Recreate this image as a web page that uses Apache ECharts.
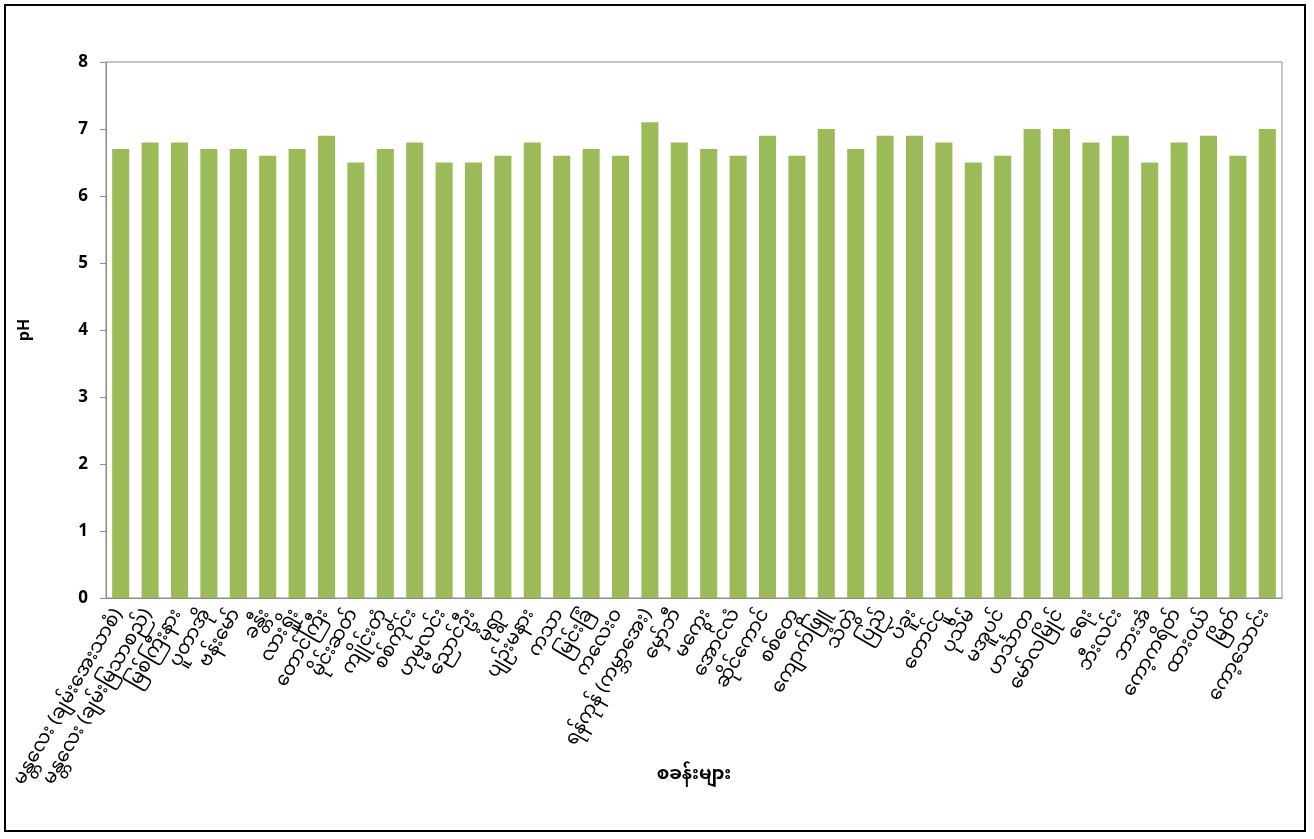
<!DOCTYPE html>
<html><head><meta charset="utf-8">
<script src="https://cdn.jsdelivr.net/npm/echarts@6/dist/echarts.min.js"></script>
<style>
html,body{margin:0;padding:0;background:#fff;}
#frame{position:absolute;left:4px;top:4px;width:1302px;height:828px;border:2px solid #000;box-sizing:border-box;}
#c{position:absolute;left:0;top:0;width:1314px;height:839px;}
</style></head>
<body>
<div id="frame"></div>
<div id="c"></div>
<script>
const categories = [
"မန္တလေး (ချမ်းအေးသာစံ)","မန္တလေး (ချမ်းမြသာစည်)","မြစ်ကြီးနား","ပူတာအို","ဗန်းမော်",
"ခန္တီး","လားရှိုး","တောင်ကြီး","မိုင်းဆတ်","ကျိုင်းတုံ",
"စစ်ကိုင်း","ဟုမ္မလင်း","ညောင်ဦး","မုံရွာ","ပျဉ်းမနား",
"ကသာ","မြင်းခြံ","ကလေးဝ","ရန်ကုန် (ကမ္ဘာအေး)","မှော်ဘီ",
"မကွေး","အောင်လံ","ဆိုင်ကောင်","စစ်တွေ","ကျောက်ဖြူ",
"သံတွဲ","ပြည်","ပဲခူး","တောင်ငူ","ပုသိမ်",
"မအူပင်","ဟင်္သာတ","မော်လမြိုင်","ရေး","ဘီးလင်း",
"ဘားအံ","ကော့ကရိတ်","ထားဝယ်","မြိတ်","ကော့သောင်း"
];
const phValues = [
6.7,6.8,6.8,6.7,6.7,6.6,6.7,6.9,6.5,6.7,
6.8,6.5,6.5,6.6,6.8,6.6,6.7,6.6,7.1,6.8,
6.7,6.6,6.9,6.6,7.0,6.7,6.9,6.9,6.8,6.5,
6.6,7.0,7.0,6.8,6.9,6.5,6.8,6.9,6.6,7.0
];
const chart = echarts.init(document.getElementById('c'));
const ff = "'Noto Sans Myanmar','Padauk','Myanmar Text','Noto Sans','DejaVu Sans',sans-serif";
chart.setOption({
  animation:false,
  grid:{left:106,right:32,top:62,bottom:241,show:true,borderColor:'#8c8c8c',borderWidth:1,backgroundColor:'transparent'},
  xAxis:{
    type:'category',data:categories,
    name:'စခန်းများ',nameLocation:'middle',nameGap:170,nameMoveOverlap:false,
    nameTextStyle:{fontFamily:ff,fontSize:18,fontWeight:'bold',color:'#000'},
    axisLine:{lineStyle:{color:'#8c8c8c'}},
    axisTick:{show:false},
    axisLabel:{rotate:60,interval:0,fontFamily:ff,fontSize:19,color:'#000',margin:14}
  },
  yAxis:{
    type:'value',min:0,max:8,interval:1,
    name:'pH',nameLocation:'middle',nameGap:74,nameRotate:90,
    nameTextStyle:{fontFamily:"'Open Sans','DejaVu Sans',sans-serif",fontSize:16,fontWeight:'bold',color:'#000'},
    axisLine:{show:true,lineStyle:{color:'#8c8c8c'}},
    axisTick:{show:true,length:6,lineStyle:{color:'#8c8c8c'}},
    splitLine:{show:false},
    axisLabel:{fontFamily:"'Open Sans','DejaVu Sans',sans-serif",fontSize:17,fontWeight:'bold',color:'#000',margin:18}
  },
  series:[{type:'bar',data:phValues,barCategoryGap:'42%',itemStyle:{color:'#9BBB59'}}]
});
</script>
</body></html>
